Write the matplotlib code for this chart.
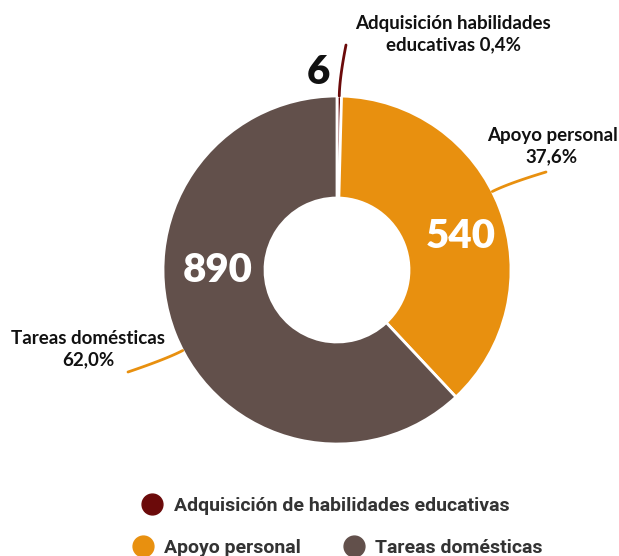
import numpy as np
import matplotlib
matplotlib.use('Agg')
import matplotlib.pyplot as plt
from matplotlib.lines import Line2D

categories = ['Adquisición de habilidades educativas', 'Apoyo personal', 'Tareas domésticas']
values = [6, 540, 890]
short_labels = ['Adquisición habilidades\neducativas', 'Apoyo personal\n', 'Tareas domésticas\n']
colors = ['#6B0A0A', '#E8900F', '#62504B']
connector_colors = ['#6B0A0A', '#E8900F', '#E8900F']

W, H = 619, 556
fig = plt.figure(figsize=(W / 100, H / 100), dpi=100)
ax = fig.add_axes([0, 0, 1, 1])

cx, cy = 337, H - 270
R, ring = 174, 102

wedges, _ = ax.pie(values, colors=colors, startangle=90, counterclock=False,
                   center=(cx, cy), radius=R, frame=True,
                   wedgeprops=dict(width=ring, edgecolor='white', linewidth=2))
ax.set_xlim(0, W)
ax.set_ylim(0, H)
ax.set_aspect('equal')
ax.axis('off')

total = sum(values)
pcts = [v / total * 100 for v in values]

# value labels: inside ring for big slices, outside for the tiny one
val_pos = [(318, H - 72), (461, H - 236), (218, H - 271)]
val_col = ['#111111', 'white', 'white']
for (x, y), v, c in zip(val_pos, values, val_col):
    ax.text(x, y, str(v), ha='center', va='center', fontsize=29,
            fontweight='heavy', family='Lato', color=c)

# outside labels with connectors
lab_pos = [(453, H - 34), (552, H - 146), (88, H - 349)]
end_pts = [(346, H - 45), (546, H - 172), (128, H - 372)]
for w, lab, p, (lx, ly), (ex, ey), cc in zip(wedges, short_labels, pcts, lab_pos, end_pts, connector_colors):
    mid = np.deg2rad((w.theta1 + w.theta2) / 2 + (6 if w.theta2 - w.theta1 > 5 else 0))
    sx, sy = cx + R * np.cos(mid), cy + R * np.sin(mid)
    kx, ky = cx + (R + 18) * np.cos(mid), cy + (R + 18) * np.sin(mid)
    t = np.linspace(0, 1, 30)
    bx = (1 - t) ** 2 * sx + 2 * (1 - t) * t * kx + t ** 2 * ex
    by = (1 - t) ** 2 * sy + 2 * (1 - t) * t * ky + t ** 2 * ey
    ax.plot(bx, by, color=cc, linewidth=2, solid_capstyle='round')
    pct = f'{p:.1f}%'.replace('.', ',')
    if lab.endswith('\n'):
        txt = lab + pct
    else:
        txt = lab + ' ' + pct
    ax.text(lx, ly, txt, ha='center', va='center', fontsize=13.5,
            fontweight='bold', family='Lato', color='#111111', linespacing=1.35)

# legend: one item on the first row, two on the second
handles = [Line2D([], [], marker='o', linestyle='none', markersize=15,
                  markerfacecolor=c, markeredgecolor=c) for c in colors]
leg1 = fig.legend(handles[:1], categories[:1], loc='center', bbox_to_anchor=(326 / W, 1 - 506 / H),
                  frameon=False, handletextpad=0.6, handlelength=1.0,
                  prop=dict(family='Roboto', weight='bold', size=14))
leg2 = fig.legend(handles[1:], categories[1:], loc='center', bbox_to_anchor=(338 / W, 1 - 548 / H),
                  ncol=2, frameon=False, handletextpad=0.6, handlelength=1.0, columnspacing=2.2,
                  prop=dict(family='Roboto', weight='bold', size=14))
for leg in (leg1, leg2):
    for t in leg.get_texts():
        t.set_color('#333333')

fig.savefig('out.png', dpi=100)
